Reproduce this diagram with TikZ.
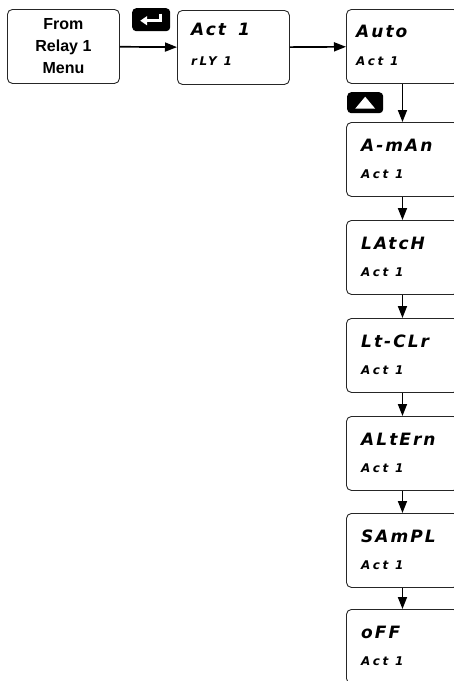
\documentclass[tikz,border=0pt]{standalone}
\usepackage{fontspec}
\setmainfont{Liberation Sans}
\newfontfamily\lcdbig[LetterSpace=12]{DejaVu Sans}
\newfontfamily\lcdsmall[LetterSpace=22]{DejaVu Sans}
\usetikzlibrary{positioning,arrows.meta}
\tikzset{
  dispbox/.style={draw=black!85, line width=0.9pt, rounded corners=5pt, minimum width=112pt,
    minimum height=74pt, anchor=north west, inner sep=0pt},
  toptxt/.style={anchor=base west, inner sep=0pt, font=\lcdbig\bfseries\itshape\fontsize{17}{17}\selectfont},
  bottxt/.style={anchor=base west, inner sep=0pt, font=\lcdsmall\bfseries\itshape\fontsize{12}{12}\selectfont},
  keybox/.style={fill=black, rounded corners=4pt, minimum width=38pt, minimum height=23pt,
    anchor=north west, inner sep=0pt},
  flow/.style={-{Triangle[length=12pt,width=9pt]}, line width=1.7pt}
}
\begin{document}
\begin{tikzpicture}[x=1pt,y=-1pt]
\useasboundingbox (0,0) rectangle (454,681);
% Entrada desde el menu
\node[dispbox, align=center, font=\bfseries\fontsize{16}{22}\selectfont] (menu) at (7,9) {From\\Relay 1\\Menu};
% Pantalla Act 1
\node[dispbox] (act) at (177,10) {};
\node[toptxt] (acttop) at (191,35) {Act\hspace{12pt}1};
\node[bottxt] (actbot) at (191,65) {rLY 1};
\draw[flow] (menu) -- (act);
% Tecla enter
\node[keybox] (enterkey) at (132,8) {};
\draw[white, line width=3pt, -{Triangle[length=7pt,width=9pt]}]
  ([xshift=9pt,yshift=6pt]enterkey.center) -- ([xshift=9pt,yshift=-1pt]enterkey.center)
  -- ([xshift=-11pt,yshift=-1pt]enterkey.center);
% Pantalla Auto
\node[dispbox] (auto) at (346,9) {};
\node[toptxt] (autotop) at (356,37) {Auto};
\node[bottxt] (autobot) at (356,65) {Act 1};
\draw[flow] (act) -- (auto);
% Tecla arriba
\node[keybox, minimum width=36pt, minimum height=21pt] (upkey) at (347,92) {};
\fill[white] ([yshift=6pt]upkey.center) -- ([xshift=-10pt,yshift=-6pt]upkey.center)
  -- ([xshift=10pt,yshift=-6pt]upkey.center) -- cycle;
% Pila de modos
\foreach \y/\nm/\txt in {122/man/A-mAn, 220/latch/LAtcH, 318/ltclr/Lt-CLr,
    416/altern/ALtErn, 513/sampl/SAmPL, 609/off/oFF} {
  \node[dispbox] (\nm) at (346,\y) {};
  \node[toptxt] (\nm top) at (361,\y+29) {\txt};
  \node[bottxt] (\nm bot) at (361,\y+56) {Act 1};
}
\foreach \a/\b in {auto/man, man/latch, latch/ltclr, ltclr/altern, altern/sampl, sampl/off}
  \draw[flow] (\a) -- (\b);
\end{tikzpicture}
\end{document}
